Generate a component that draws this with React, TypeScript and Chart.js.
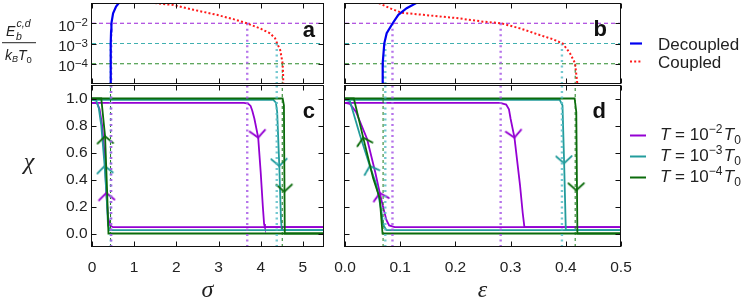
import React, { useEffect, useRef } from 'react';
import { Chart, registerables } from 'chart.js';
Chart.register(...registerables);

// ---------- tick values ----------
const sigmaTicks = [0, 1, 2, 3, 4, 5];
const epsTicks = [0, 0.1, 0.2, 0.3, 0.4, 0.5];
const chiTicks = [0, 0.2, 0.4, 0.6, 0.8, 1.0];
const energyTicks = [1e-2, 1e-3, 1e-4];
const energyTickExp = ['−2', '−3', '−4'];
const tempExp = ['−2', '−3', '−4'];
const energyLevels = [1e-2, 1e-3, 1e-4];

// ---------- panel a : sigma vs E_b ----------
const aDecoupledSigma = [0.437, 0.441, 0.447, 0.452, 0.46, 0.5, 0.57, 0.66, 0.7];
const aDecoupledE = [1e-5, 1e-4, 1e-3, 4e-3, 1e-2, 3.1e-2, 6.6e-2, 1.15e-1, 1.3e-1];
const aCoupledSigma = [1.4, 1.46, 1.93, 2.41, 2.96, 3.35, 3.67, 3.98, 4.22, 4.34, 4.39, 4.46, 4.49, 4.52, 4.53, 4.535];
const aCoupledE = [1.2e-1, 1.02e-1, 7.9e-2, 4.6e-2, 2.6e-2, 1.6e-2, 1.0e-2, 5.6e-3, 3.2e-3, 1.8e-3, 1.0e-3, 4.9e-4, 2.3e-4, 1.0e-4, 3.5e-5, 1.0e-5];
const aCoupledCross = [3.68, 4.38, 4.51];
const aDecoupledCross = [0.455, 0.445, 0.44];

// ---------- panel b : epsilon vs E_b ----------
const bDecoupledEps = [0.0676, 0.0683, 0.0712, 0.0755, 0.0864, 0.0966, 0.1117, 0.1299, 0.14];
const bDecoupledE = [1.0e-5, 1.07e-4, 1.02e-3, 3.2e-3, 1.0e-2, 2.6e-2, 5.5e-2, 1.02e-1, 1.3e-1];
const bCoupledEps = [0.055, 0.0603, 0.0815, 0.1027, 0.1418, 0.2023, 0.2505, 0.2826, 0.317, 0.3533, 0.3774, 0.3944, 0.4076, 0.4167, 0.421];
const bCoupledE = [1.3e-1, 1.02e-1, 5.5e-2, 3.3e-2, 2.6e-2, 1.8e-2, 1.2e-2, 1.0e-2, 5.6e-3, 2.6e-3, 1.6e-3, 1.0e-3, 3.3e-4, 1.07e-4, 1.0e-5];
const bCoupledCross = [0.282, 0.393, 0.417];
const bDecoupledCross = [0.086, 0.073, 0.069];

// ---------- panel c : sigma vs chi ----------
const cPurpleUpX = [0, 3.6, 3.7, 3.76, 3.8, 3.85, 3.94, 4.0, 4.05, 4.08, 4.1, 5.5];
const cPurpleUpY = [0.968, 0.968, 0.962, 0.945, 0.91, 0.85, 0.71, 0.45, 0.2, 0.07, 0.047, 0.047];
const cPurpleRetX = [5.5, 0.5, 0.43, 0.38, 0.34, 0.3, 0.24, 0.18, 0.12, 0];
const cPurpleRetY = [0.047, 0.047, 0.06, 0.12, 0.3, 0.58, 0.8, 0.92, 0.965, 0.968];
const cCyanUpX = [0, 4.3, 4.36, 4.39, 4.44, 4.48, 4.5, 5.5];
const cCyanUpY = [0.99, 0.99, 0.97, 0.9, 0.5, 0.1, 0.025, 0.025];
const cCyanRetX = [5.5, 0.42, 0.38, 0.35, 0.3, 0.22, 0.16, 0.1, 0];
const cCyanRetY = [0.025, 0.025, 0.06, 0.25, 0.5, 0.8, 0.93, 0.985, 0.99];
const cGreenUpX = [0, 4.52, 4.55, 4.57, 5.5];
const cGreenUpY = [1.0, 1.0, 0.95, 0.0, 0.0];
const cGreenRetX = [5.5, 0.39, 0.36, 0.31, 0.22, 0];
const cGreenRetY = [0.0, 0.0, 0.3, 0.72, 1.0, 1.0];
const cArrowDownX = [3.94, 4.44, 4.56];
const cArrowDownY = [0.71, 0.5, 0.31];
const cArrowDownRot = [-6.7, -2, -1];
const cArrowUpX = [0.34, 0.3, 0.31];
const cArrowUpY = [0.3, 0.5, 0.72];
const cArrowUpRot = [177, 176, 178];

// ---------- panel d : epsilon vs chi ----------
const dPurpleUpX = [0, 0.281, 0.292, 0.297, 0.3, 0.307, 0.317, 0.322, 0.325, 0.5];
const dPurpleUpY = [0.968, 0.968, 0.955, 0.92, 0.85, 0.71, 0.36, 0.15, 0.047, 0.047];
const dPurpleRetX = [0.5, 0.09, 0.08, 0.075, 0.07, 0.063, 0.055, 0.04, 0.02, 0.009, 0];
const dPurpleRetY = [0.047, 0.047, 0.06, 0.1, 0.18, 0.3, 0.45, 0.7, 0.9, 0.96, 0.968];
const dCyanUpX = [0, 0.389, 0.394, 0.397, 0.4, 0.5];
const dCyanUpY = [0.99, 0.99, 0.95, 0.52, 0.025, 0.025];
const dCyanRetX = [0.5, 0.075, 0.069, 0.066, 0.057, 0.045, 0.027, 0.009, 0];
const dCyanRetY = [0.025, 0.025, 0.067, 0.165, 0.36, 0.5, 0.73, 0.98, 0.99];
const dGreenUpX = [0, 0.416, 0.419, 0.421, 0.5];
const dGreenUpY = [1.0, 1.0, 0.9, 0.0, 0.0];
const dGreenRetX = [0.5, 0.068, 0.066, 0.063, 0.051, 0.033, 0.016, 0];
const dGreenRetY = [0.0, 0.0, 0.1, 0.26, 0.41, 0.71, 1.0, 1.0];
const dArrowDownX = [0.307, 0.397, 0.419];
const dArrowDownY = [0.71, 0.52, 0.32];
const dArrowDownRot = [-8, -1.5, -0.5];
const dArrowUpX = [0.063, 0.045, 0.033];
const dArrowUpY = [0.3, 0.5, 0.71];
const dArrowUpRot = [167, 162, 166];

// ---------- styles ----------
const PURPLE = '#9400d3';
const CYAN = '#239c9c';
const GREEN = '#0b6b0b';
const BLUE = '#0000f0';
const RED = '#ff1a1a';
const TEMP_COLORS = [PURPLE, CYAN, GREEN];
const VLINE_COLORS = ['rgba(168,90,230,0.85)', 'rgba(90,190,200,0.85)', '#1a7a1a'];
const VLINE_DASH = [[2, 3.5], [2, 3.5], [3, 3]];
const VLINE_W = [2.4, 2.4, 1];
const HLINE_COLORS = ['#9a20d8', '#40b0b0', '#2a8a2a'];
const TXT = '#222';
const SANS = '"Liberation Sans", Arial, Helvetica, sans-serif';
const SERIF = '"Liberation Serif", "DejaVu Serif", serif';

type Run = { t: string; px: number; it?: boolean; b?: boolean; dy?: number; serif?: boolean; gap?: number };
const fontOf = (r: Run) => `${r.it ? 'italic ' : ''}${r.b ? 'bold ' : ''}${r.px}px ${r.serif ? SERIF : SANS}`;
function drawRuns(ctx: CanvasRenderingContext2D, runs: Run[], x: number, y: number, color = TXT, align: 'left' | 'right' | 'center' = 'left') {
  ctx.save();
  ctx.fillStyle = color;
  ctx.textBaseline = 'alphabetic';
  ctx.textAlign = 'left';
  const ws = runs.map((r) => { ctx.font = fontOf(r); return ctx.measureText(r.t).width + (r.gap || 0); });
  const total = ws.reduce((s, w) => s + w, 0);
  let cx = align === 'right' ? x - total : align === 'center' ? x - total / 2 : x;
  runs.forEach((r, i) => { ctx.font = fontOf(r); ctx.fillText(r.t, cx, y + (r.dy || 0)); cx += ws[i]; });
  ctx.restore();
}

const zip = (xs: number[], ys: number[]) => xs.map((x, i) => ({ x, y: ys[i] }));
const lineDs = (xs: number[], ys: number[], color: string, width: number, dash: number[] = [], order = 1) => ({
  type: 'scatter' as const, data: zip(xs, ys), showLine: true, borderColor: color, backgroundColor: color,
  borderWidth: width, borderDash: dash, pointRadius: 0, order, fill: false, tension: 0,
});

function makeChevron(color: string): HTMLCanvasElement {
  const c = document.createElement('canvas');
  c.width = 22; c.height = 22;
  const g = c.getContext('2d')!;
  g.strokeStyle = color; g.lineWidth = 1.7; g.lineCap = 'round'; g.lineJoin = 'miter';
  g.beginPath(); g.moveTo(11 - 7.8, 11 - 7); g.lineTo(11, 11); g.lineTo(11 + 7.8, 11 - 7); g.stroke();
  return c;
}

const framePlugin = {
  id: 'frame',
  afterDatasetsDraw(chart: any, _args: any, opts: any) {
    const { ctx, chartArea: a, scales } = chart;
    const xs = scales.x, ys = scales.y;
    const l = Math.round(a.left) - 0.5, r = Math.round(a.right) - 0.5;
    const t = Math.round(a.top) + 0.5, b = Math.round(a.bottom) - 0.5;
    ctx.save();
    ctx.strokeStyle = '#111';
    ctx.lineWidth = 1;
    ctx.strokeRect(l, t, r - l, b - t);
    ctx.beginPath();
    const L = 5;
    (opts.xTicks || []).forEach((v: number) => {
      const px = Math.round(xs.getPixelForValue(v)) + 0.5;
      ctx.moveTo(px, t); ctx.lineTo(px, t + L);
      ctx.moveTo(px, b); ctx.lineTo(px, b - L);
    });
    (opts.yTicks || []).forEach((v: number) => {
      const py = Math.round(ys.getPixelForValue(v)) + 0.5;
      ctx.moveTo(l, py); ctx.lineTo(l + L, py);
      ctx.moveTo(r, py); ctx.lineTo(r - L, py);
    });
    ctx.stroke();
    ctx.restore();
  },
};

function baseOptions(padding: any, scales: any, frame: any) {
  return {
    responsive: false,
    animation: false as const,
    events: [],
    layout: { padding },
    plugins: { legend: { display: false }, tooltip: { enabled: false }, frame },
    scales,
  };
}

const tickFont = { family: SANS, size: 15.5 };

export default function App() {
  const rA = useRef<HTMLCanvasElement>(null);
  const rB = useRef<HTMLCanvasElement>(null);
  const rC = useRef<HTMLCanvasElement>(null);
  const rD = useRef<HTMLCanvasElement>(null);

  useEffect(() => {
    const chevDown = TEMP_COLORS.map(makeChevron);

    const topRefLines = (xmax: number, coupled: number[], decoupled: number[]) => {
      const ds: any[] = [];
      energyLevels.forEach((lv, i) => {
        ds.push(lineDs([0, xmax], [lv, lv], HLINE_COLORS[i], 1, [4, 3], 5));
        ds.push(lineDs([coupled[i], coupled[i]], [lv, 1e-5], VLINE_COLORS[i], VLINE_W[i], VLINE_DASH[i], 4));
        ds.push(lineDs([decoupled[i], decoupled[i]], [lv, 1e-5], VLINE_COLORS[i], VLINE_W[i], VLINE_DASH[i], 4));
      });
      return ds;
    };
    const bottomRefLines = (coupled: number[], decoupled: number[]) => {
      const ds: any[] = [];
      energyLevels.forEach((_lv, i) => {
        ds.push(lineDs([coupled[i], coupled[i]], [-0.1, 1.1], VLINE_COLORS[i], VLINE_W[i], VLINE_DASH[i], 0));
        ds.push(lineDs([decoupled[i], decoupled[i]], [-0.1, 1.1], VLINE_COLORS[i], VLINE_W[i], VLINE_DASH[i], 0));
      });
      return ds;
    };
    const arrowDs = (xs: number[], ys: number[], rot: number[]) => ({
      type: 'scatter' as const, data: zip(xs, ys), showLine: false, pointStyle: chevDown,
      pointRadius: 6, pointRotation: rot, order: 1,
    });

    const logY = { type: 'logarithmic', min: 1e-5, max: 1e-1, display: false };

    // ---------- chart A ----------
    const chartA = new Chart(rA.current!, {
      type: 'scatter',
      data: {
        datasets: [
          lineDs(aDecoupledSigma, aDecoupledE, BLUE, 2.2, [], 1),
          lineDs(aCoupledSigma, aCoupledE, RED, 2, [2, 2.2], 2),
          ...topRefLines(5.5, aCoupledCross, aDecoupledCross),
        ] as any,
      },
      options: baseOptions(
        { left: 92, top: 3, right: 423, bottom: 215 },
        { x: { type: 'linear', min: 0, max: 5.5, display: false }, y: logY },
        { xTicks: sigmaTicks, yTicks: energyTicks },
      ) as any,
      plugins: [framePlugin, {
        id: 'textA',
        afterDraw(chart: any) {
          const { ctx, chartArea: a, scales } = chart;
          energyTicks.forEach((v, i) => {
            const py = scales.y.getPixelForValue(v);
            drawRuns(ctx, [{ t: '10', px: 15 }, { t: energyTickExp[i], px: 11.5, dy: -4.2 }], 88, py + 7.4, TXT, 'right');
          });
          drawRuns(ctx, [{ t: 'a', px: 22, b: true }], a.right - 9, a.top + 34, '#111', 'right');
          // y-axis title: E_b^{c,d} / (k_B T_0)
          drawRuns(ctx, [{ t: 'E', px: 14, it: true }], 6, 36);
          drawRuns(ctx, [{ t: 'c,d', px: 10.5, it: true }], 16.5, 26.5);
          drawRuns(ctx, [{ t: 'b', px: 10.5, it: true }], 16, 39.5);
          ctx.save(); ctx.fillStyle = TXT; ctx.fillRect(2, 42.2, 34, 1); ctx.restore();
          drawRuns(ctx, [{ t: 'k', px: 14, it: true }, { t: 'B', px: 9, it: true, dy: 2 }, { t: 'T', px: 14, it: true }, { t: '0', px: 9.5, dy: 3 }], 5, 60);
        },
      }],
    });

    // ---------- chart B ----------
    const chartB = new Chart(rB.current!, {
      type: 'scatter',
      data: {
        datasets: [
          lineDs(bDecoupledEps, bDecoupledE, BLUE, 2.2, [], 1),
          lineDs(bCoupledEps, bCoupledE, RED, 2, [2, 2.2], 2),
          ...topRefLines(0.5, bCoupledCross, bDecoupledCross),
        ] as any,
      },
      options: baseOptions(
        { left: 345, top: 3, right: 126, bottom: 215 },
        { x: { type: 'linear', min: 0, max: 0.5, display: false }, y: logY },
        { xTicks: epsTicks, yTicks: energyTicks },
      ) as any,
      plugins: [framePlugin, {
        id: 'textB',
        afterDraw(chart: any) {
          const { ctx, chartArea: a } = chart;
          drawRuns(ctx, [{ t: 'b', px: 22, b: true }], a.right - 14, a.top + 33, '#111', 'right');
          const lx0 = a.right + 9, lx1 = a.right + 21, tx = a.right + 37;
          ctx.save();
          ctx.lineWidth = 2.2; ctx.strokeStyle = BLUE;
          ctx.beginPath(); ctx.moveTo(lx0, 43.5); ctx.lineTo(lx1, 43.5); ctx.stroke();
          ctx.lineWidth = 2; ctx.strokeStyle = RED; ctx.setLineDash([2, 2.2]);
          ctx.beginPath(); ctx.moveTo(lx0, 61.5); ctx.lineTo(lx1, 61.5); ctx.stroke();
          ctx.restore();
          drawRuns(ctx, [{ t: 'Decoupled', px: 17 }], tx, 50);
          drawRuns(ctx, [{ t: 'Coupled', px: 17 }], tx, 68);
        },
      }],
    });

    // ---------- chart C ----------
    const chartC = new Chart(rC.current!, {
      type: 'scatter',
      data: {
        datasets: [
          ...bottomRefLines(aCoupledCross, aDecoupledCross),
          lineDs(cPurpleUpX, cPurpleUpY, PURPLE, 1.8, [], 3),
          lineDs(cPurpleRetX, cPurpleRetY, PURPLE, 1.8, [], 3),
          lineDs(cCyanUpX, cCyanUpY, CYAN, 1.8, [], 2),
          lineDs(cCyanRetX, cCyanRetY, CYAN, 1.8, [], 2),
          lineDs(cGreenUpX, cGreenUpY, GREEN, 1.8, [], 1),
          lineDs(cGreenRetX, cGreenRetY, GREEN, 1.8, [], 1),
          arrowDs(cArrowDownX, cArrowDownY, cArrowDownRot),
          arrowDs(cArrowUpX, cArrowUpY, cArrowUpRot),
        ] as any,
      },
      options: baseOptions(
        { left: 0, top: 85, right: 423, bottom: 12 },
        {
          x: {
            type: 'linear', min: 0, max: 5.5,
            afterBuildTicks: (s: any) => { s.ticks = sigmaTicks.map((v) => ({ value: v })); },
            afterFit: (s: any) => { s.height = 40; },
            grid: { display: false, drawTicks: false }, border: { display: false },
            ticks: { padding: 11, font: tickFont, color: TXT, maxRotation: 0, autoSkip: false, callback: (v: any) => String(v) },
          },
          y: {
            type: 'linear', min: -0.1, max: 1.1,
            afterBuildTicks: (s: any) => { s.ticks = chiTicks.map((v) => ({ value: v })); },
            afterFit: (s: any) => { s.width = 92; },
            grid: { display: false, drawTicks: false }, border: { display: false },
            ticks: { padding: 4.5, font: tickFont, color: TXT, autoSkip: false, callback: (v: any) => Number(v).toFixed(1) },
          },
        },
        { xTicks: sigmaTicks, yTicks: chiTicks },
      ) as any,
      plugins: [framePlugin, {
        id: 'textC',
        afterDraw(chart: any) {
          const { ctx, chartArea: a } = chart;
          drawRuns(ctx, [{ t: 'c', px: 22, b: true }], a.right - 9, a.top + 33.3, '#111', 'right');
          drawRuns(ctx, [{ t: 'χ', px: 24, it: true, serif: true }], 29, 169, TXT, 'center');
          drawRuns(ctx, [{ t: 'σ', px: 24, it: true, serif: true }], (a.left + a.right) / 2 - 0.5, 296.5, TXT, 'center');
        },
      }],
    });

    // ---------- chart D ----------
    const chartD = new Chart(rD.current!, {
      type: 'scatter',
      data: {
        datasets: [
          ...bottomRefLines(bCoupledCross, bDecoupledCross),
          lineDs(dPurpleUpX, dPurpleUpY, PURPLE, 1.8, [], 3),
          lineDs(dPurpleRetX, dPurpleRetY, PURPLE, 1.8, [], 3),
          lineDs(dCyanUpX, dCyanUpY, CYAN, 1.8, [], 2),
          lineDs(dCyanRetX, dCyanRetY, CYAN, 1.8, [], 2),
          lineDs(dGreenUpX, dGreenUpY, GREEN, 1.8, [], 1),
          lineDs(dGreenRetX, dGreenRetY, GREEN, 1.8, [], 1),
          arrowDs(dArrowDownX, dArrowDownY, dArrowDownRot),
          arrowDs(dArrowUpX, dArrowUpY, dArrowUpRot),
        ] as any,
      },
      options: baseOptions(
        { left: 345, top: 85, right: 126, bottom: 12 },
        {
          x: {
            type: 'linear', min: 0, max: 0.5,
            afterBuildTicks: (s: any) => { s.ticks = epsTicks.map((v) => ({ value: v })); },
            afterFit: (s: any) => { s.height = 40; },
            grid: { display: false, drawTicks: false }, border: { display: false },
            ticks: { padding: 11, font: tickFont, color: TXT, maxRotation: 0, autoSkip: false, callback: (v: any) => Number(v).toFixed(1) },
          },
          y: { type: 'linear', min: -0.1, max: 1.1, display: false },
        },
        { xTicks: epsTicks, yTicks: chiTicks },
      ) as any,
      plugins: [framePlugin, {
        id: 'textD',
        afterDraw(chart: any) {
          const { ctx, chartArea: a } = chart;
          drawRuns(ctx, [{ t: 'd', px: 22, b: true }], a.right - 15, a.top + 33.3, '#111', 'right');
          drawRuns(ctx, [{ t: 'ε', px: 24, it: true, serif: true }], (a.left + a.right) / 2 - 0.5, 296.5, TXT, 'center');
          const lx0 = a.right + 9, lx1 = a.right + 25, tx = a.right + 39;
          TEMP_COLORS.forEach((col, i) => {
            const y = 135.5 + i * 21;
            ctx.save();
            ctx.lineWidth = 2; ctx.strokeStyle = col;
            ctx.beginPath(); ctx.moveTo(lx0, y); ctx.lineTo(lx1, y); ctx.stroke();
            ctx.restore();
            drawRuns(ctx, [
              { t: 'T', px: 17, it: true },
              { t: ' = 10', px: 17 },
              { t: tempExp[i], px: 12, dy: -7, gap: 1.5 },
              { t: 'T', px: 17, it: true },
              { t: '0', px: 12, dy: 3.5 },
            ], tx, y + 4.7);
          });
        },
      }],
    });

    return () => { chartA.destroy(); chartB.destroy(); chartC.destroy(); chartD.destroy(); };
  }, []);

  const cv = { position: 'absolute' as const, left: 0, top: 0 };
  return (
    <div style={{ position: 'fixed', left: 0, top: 0, width: 747, height: 299, background: '#fff', overflow: 'hidden' }}>
      <canvas ref={rA} width={747} height={299} style={cv} />
      <canvas ref={rB} width={747} height={299} style={cv} />
      <canvas ref={rC} width={747} height={299} style={cv} />
      <canvas ref={rD} width={747} height={299} style={cv} />
    </div>
  );
}
